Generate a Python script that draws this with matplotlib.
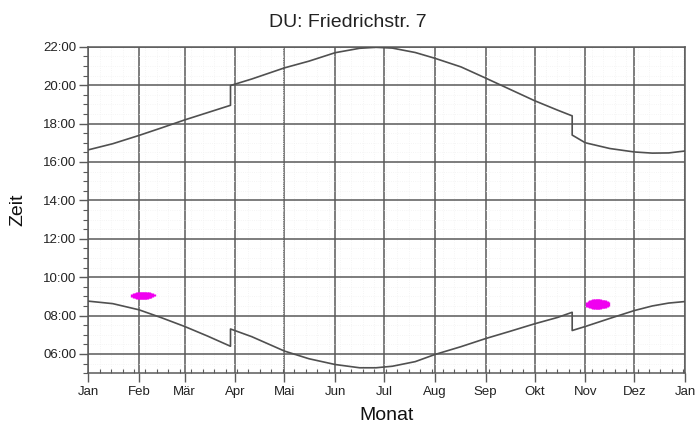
"""Schattenkalender: Sonnenauf-/untergang und Schattenzeiten über das Jahr."""
import matplotlib
matplotlib.use("Agg")
import matplotlib.pyplot as plt
from matplotlib.ticker import FixedLocator, MultipleLocator, FuncFormatter

plt.rcParams["font.family"] = ["Liberation Sans", "DejaVu Sans"]

GRID = "#5a5a5a"
LINE = "#505050"
MAGENTA = "#f000f0"

# Tag des Jahres (0 = 1. Jan), Uhrzeit in Stunden; doppelte Tage = Zeitumstellung
sunset_days = [0, 15, 31, 45, 59, 73, 87, 87, 100, 120, 135, 151, 166, 176, 186,
               200, 212, 228, 243, 258, 273, 287, 296, 296, 304, 319, 334, 345, 355, 365]
sunset_hours = [16.63, 16.95, 17.38, 17.78, 18.19, 18.57, 18.95, 19.98, 20.32, 20.9,
                21.25, 21.69, 21.92, 21.97, 21.93, 21.7, 21.4, 20.95, 20.37, 19.78,
                19.19, 18.7, 18.4, 17.4, 17.0, 16.7, 16.52, 16.46, 16.47, 16.57]

sunrise_days = [0, 15, 31, 45, 59, 73, 87, 87, 100, 120, 135, 151, 166, 176, 186,
                200, 212, 228, 243, 258, 273, 287, 296, 296, 304, 319, 334, 345, 355, 365]
sunrise_hours = [8.75, 8.62, 8.3, 7.88, 7.43, 6.93, 6.4, 7.3, 6.9, 6.15, 5.75, 5.45,
                 5.28, 5.28, 5.36, 5.6, 5.97, 6.38, 6.8, 7.18, 7.57, 7.9, 8.17, 7.22,
                 7.43, 7.85, 8.26, 8.5, 8.65, 8.73]

# Schattenzeiten (Beginn/Ende je Tag)
feb_days = [27, 28, 29, 30, 31, 32, 33, 34, 35, 36, 37, 38, 39, 40]
feb_start = [8.98, 8.93, 8.9, 8.88, 8.87, 8.86, 8.86, 8.86, 8.86, 8.87, 8.89, 8.92, 8.95, 9.0]
feb_end = [9.12, 9.17, 9.2, 9.22, 9.23, 9.24, 9.24, 9.24, 9.24, 9.23, 9.21, 9.18, 9.15, 9.1]

nov_days = [305, 306, 307, 308, 309, 310, 311, 312, 313, 314, 315, 316, 317, 318]
nov_start = [8.47, 8.42, 8.39, 8.37, 8.36, 8.36, 8.36, 8.36, 8.36, 8.37, 8.38, 8.4, 8.43, 8.48]
nov_end = [8.73, 8.78, 8.81, 8.83, 8.84, 8.84, 8.84, 8.84, 8.84, 8.83, 8.82, 8.8, 8.77, 8.72]

month_starts = [0, 31, 59, 90, 120, 151, 181, 212, 243, 273, 304, 334, 365]
month_labels = ["Jan", "Feb", "Mär", "Apr", "Mai", "Jun", "Jul", "Aug", "Sep",
                "Okt", "Nov", "Dez", "Jan"]

fig = plt.figure(figsize=(6.95, 4.25), dpi=100)
ax = fig.add_axes([0.127, 0.122, 0.8586, 0.768])

ax.plot(sunset_days, sunset_hours, color=LINE, lw=1.2, zorder=3)
ax.plot(sunrise_days, sunrise_hours, color=LINE, lw=1.2, zorder=3)
ax.vlines(feb_days, feb_start, feb_end, color=MAGENTA, lw=2.4, zorder=4)
ax.vlines(nov_days, nov_start, nov_end, color=MAGENTA, lw=2.4, zorder=4)

ax.set_xlim(0, 365)
ax.set_ylim(5, 22)

ax.xaxis.set_major_locator(FixedLocator(month_starts))
ax.set_xticklabels(month_labels)
ax.xaxis.set_minor_locator(MultipleLocator(7))
ax.yaxis.set_major_locator(FixedLocator(range(6, 23, 2)))
ax.yaxis.set_minor_locator(MultipleLocator(0.5))
ax.yaxis.set_major_formatter(FuncFormatter(lambda v, p: f"{int(v):02d}:00"))

ax.grid(which="major", color=GRID, lw=1.1, zorder=1)
ax.grid(which="minor", color="#f2f2f2", lw=0.6, ls=":", zorder=0)

ax.tick_params(axis="both", which="major", direction="out", length=6.5,
               width=1.0, color=GRID, labelsize=9.5, labelcolor="#222222")
ax.tick_params(axis="x", which="major", pad=3)
ax.tick_params(axis="y", which="major", pad=2)
ax.tick_params(axis="y", which="minor", direction="out", length=3.5, width=0.8, color=GRID)
ax.tick_params(axis="x", which="minor", direction="in", length=3, width=0.8, color=GRID)
for s in ax.spines.values():
    s.set_color(GRID)
    s.set_linewidth(1.1)

# Titel über die ganze Figur zentriert
fig.text(0.5, 0.948, "DU: Friedrichstr. 7", ha="center", va="center",
         fontsize=14, color="#222222")
ax.set_xlabel("Monat", fontsize=14, color="#111111")
ax.set_ylabel("Zeit", fontsize=14, color="#111111")
ax.xaxis.set_label_coords(0.5, -0.129)
ax.yaxis.set_label_coords(-0.118, 0.5)
ax.xaxis.label.set_va("center")
ax.yaxis.label.set_va("center")

fig.savefig("out.png", dpi=100, facecolor="white")
